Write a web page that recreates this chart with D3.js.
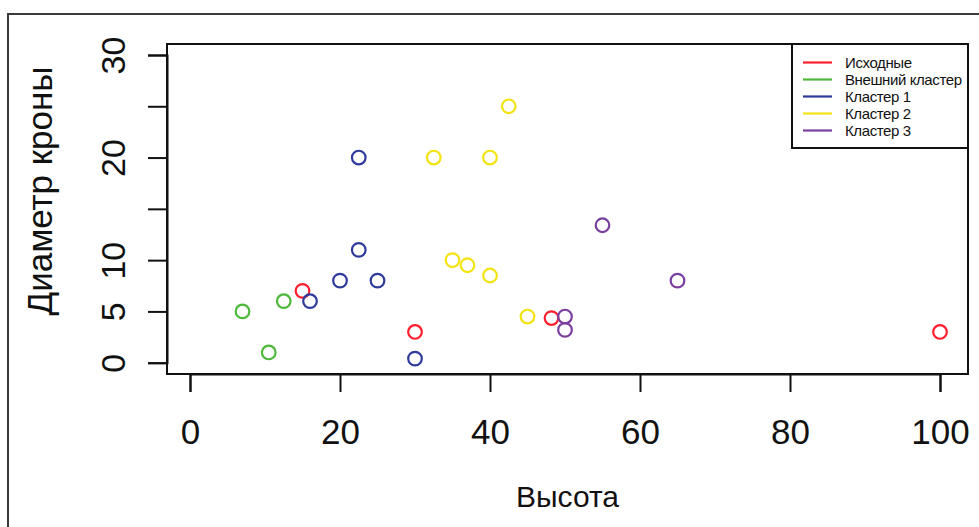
<!DOCTYPE html>
<html><head><meta charset="utf-8">
<script src="https://cdn.jsdelivr.net/npm/d3@7"></script>
<style>body{margin:0;background:#fff}svg{display:block}text{font-family:"Liberation Sans",Arial,sans-serif;fill:#111}</style>
</head><body><svg id="c" width="979" height="527"></svg>
<script>
const seriesNames = ["Исходные","Внешний кластер","Кластер 1","Кластер 2","Кластер 3"];
const seriesColors = ["#ff1f2e","#4db83a","#2e3b9b","#f3e312","#7b3f9f"];
const pointsX = [
  [15, 30, 48.2, 100],
  [7, 10.5, 12.5],
  [16, 20, 25, 22.5, 22.5, 30],
  [32.5, 40, 42.5, 35, 37, 40, 45],
  [50, 50, 55, 65]
];
const pointsY = [
  [7, 3, 4.35, 3],
  [5, 1, 6],
  [6, 8, 8, 11, 20, 0.4],
  [20, 20, 25, 10, 9.5, 8.5, 4.5],
  [4.5, 3.2, 13.4, 8]
];
const xTicks = [0,20,40,60,80,100];
const yTicks = [0,5,10,15,20,25,30];
const yTickLabels = ["0","5","10","","20","","30"];
const xTitle = "Высота", yTitle = "Диаметр кроны";

const svg = d3.select("#c");
const box = {l:167, t:44, r:968, b:374};
const x = d3.scaleLinear().domain([0,100]).range([190,940]);
const y = d3.scaleLinear().domain([0,30]).range([362.7,55]);

// outer frame
svg.append("path").attr("d","M8,527V14H979").attr("fill","none").attr("stroke","#3a3a3a").attr("stroke-width",2);

// plot box
svg.append("rect").attr("x",box.l).attr("y",box.t).attr("width",box.r-box.l).attr("height",box.b-box.t)
  .attr("fill","none").attr("stroke","#111").attr("stroke-width",2);

// x axis
const xa = svg.append("g").attr("transform",`translate(0,${box.b})`)
  .call(d3.axisBottom(x).tickValues(xTicks).tickSize(18).tickPadding(27).tickFormat(d3.format("d")));
xa.select(".domain").attr("stroke","#111").attr("stroke-width",2);
xa.selectAll(".tick line").attr("stroke","#111").attr("stroke-width",2);
xa.selectAll(".tick text").attr("font-size",35).attr("fill","#111").attr("font-family","Liberation Sans, Arial, sans-serif");

// y axis
const ya = svg.append("g").attr("transform",`translate(${box.l},0)`)
  .call(d3.axisLeft(y).tickValues(yTicks).tickSize(19).tickFormat((d,i)=>yTickLabels[i]));
ya.select(".domain").attr("stroke","#111").attr("stroke-width",2);
ya.selectAll(".tick line").attr("stroke","#111").attr("stroke-width",2);
ya.selectAll(".tick text").attr("font-size",34).attr("fill","#111").attr("font-family","Liberation Sans, Arial, sans-serif")
  .attr("x",0).attr("dy",null).attr("text-anchor","middle")
  .attr("transform","translate(-54,0) rotate(-90)").attr("dy","0.35em");

// titles
svg.append("text").attr("x",(box.l+box.r)/2).attr("y",507).attr("text-anchor","middle").attr("font-size",30).text(xTitle);
svg.append("text").attr("transform",`translate(52,191) rotate(-90)`).attr("text-anchor","middle").attr("font-size",35).text(yTitle);

// points
seriesNames.forEach((n,i)=>{
  svg.append("g").selectAll("circle").data(pointsX[i].map((v,j)=>[v,pointsY[i][j]])).join("circle")
    .attr("cx",d=>x(d[0])).attr("cy",d=>y(d[1])).attr("r",6.8)
    .attr("fill","none").attr("stroke",seriesColors[i]).attr("stroke-width",2.2);
});

// legend
const lg = svg.append("g");
lg.append("rect").attr("x",792).attr("y",box.t).attr("width",box.r-792).attr("height",148-box.t)
  .attr("fill","#fff").attr("stroke","#111").attr("stroke-width",2);
const ly = d3.scaleLinear().domain([0,4]).range([62.5,130.5]);
seriesNames.forEach((n,i)=>{
  lg.append("line").attr("x1",803).attr("x2",832).attr("y1",ly(i)).attr("y2",ly(i)).attr("stroke",seriesColors[i]).attr("stroke-width",2.2);
  lg.append("text").attr("x",845).attr("y",ly(i)).attr("dy","0.35em").attr("font-size",15).attr("letter-spacing","-0.4").text(n);
});
</script></body></html>
